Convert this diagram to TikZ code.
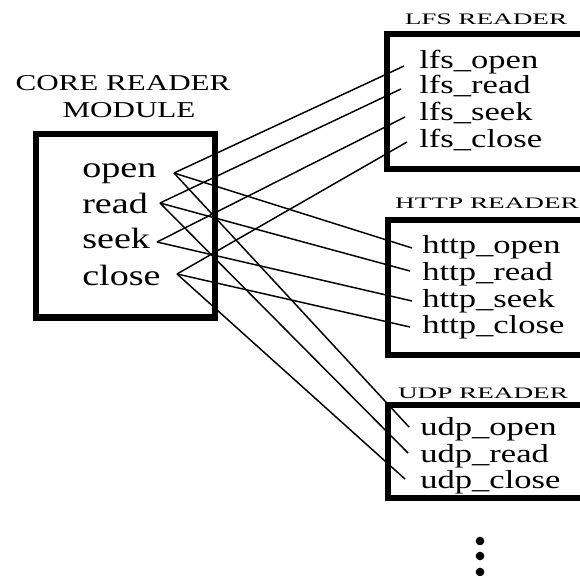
\documentclass[tikz,border=0pt]{standalone}
\usepackage{fontspec}
\setmainfont{Liberation Serif}
\newfontfamily\coreitemfont{Liberation Serif}[FakeStretch=1.3]
\newfontfamily\rightitemfont{Liberation Serif}[FakeStretch=1.33]
\newfontfamily\coretitlefont{Liberation Serif}[FakeStretch=1.37]
\newfontfamily\righttitlefont{Liberation Serif}[FakeStretch=1.7]
\tikzset{
  corebox/.style={draw, line width=4.8pt, outer sep=0pt, inner sep=0pt, anchor=north west},
  readerbox/.style={draw, line width=4.2pt, outer sep=0pt, inner sep=0pt, anchor=north west},
  coreitem/.style={anchor=base west, inner sep=0pt, font=\coreitemfont\fontsize{22}{24}\selectfont},
  rightitem/.style={anchor=base west, inner sep=0pt, font=\rightitemfont\fontsize{19.5}{21}\selectfont},
  coretitle/.style={anchor=base, inner sep=0pt, font=\coretitlefont\fontsize{17}{19}\selectfont},
  righttitle/.style={anchor=base, inner sep=0pt, font=\righttitlefont\fontsize{12}{14}\selectfont},
  link/.style={line width=1.1pt},
  dotmark/.style={fill=black, circle, inner sep=0pt, minimum size=6.5pt}
}
\begin{document}
\begin{tikzpicture}[x=0.75pt,y=-0.75pt]
\useasboundingbox (0,0) rectangle (580,575);
% boxes
\node[corebox, minimum width=134.6pt, minimum height=137.6pt] (core) at (35.7,134) {};
\node[readerbox, minimum width=195pt, minimum height=101.25pt] (lfs) at (387,34) {};
\node[readerbox, minimum width=195pt, minimum height=101.25pt] (http) at (388,220) {};
\node[readerbox, minimum width=195pt, minimum height=69.75pt] (udp) at (388,405) {};
% titles
\node[coretitle] (t1) at (123,90) {CORE READER};
\node[coretitle] (t2) at (129,117) {MODULE};
\node[righttitle] (tl) at (486,24) {LFS READER};
\node[righttitle] (th) at (487,208) {HTTP READER};
\node[righttitle] (tu) at (483,398) {UDP READER};
% core items
\node[coreitem] (open) at (82,177) {open};
\node[coreitem] (read) at (82,213) {read};
\node[coreitem] (seek) at (82,248) {seek};
\node[coreitem] (close) at (82,285) {close};
% lfs items
\node[rightitem] (lfsopen) at (419,68) {lfs\_open};
\node[rightitem] (lfsread) at (419,93) {lfs\_read};
\node[rightitem] (lfsseek) at (419,120) {lfs\_seek};
\node[rightitem] (lfsclose) at (419,147) {lfs\_close};
% http items
\node[rightitem] (httpopen) at (422,253) {http\_open};
\node[rightitem] (httpread) at (422,280) {http\_read};
\node[rightitem] (httpseek) at (422,307) {http\_seek};
\node[rightitem] (httpclose) at (422,333) {http\_close};
% udp items
\node[rightitem] (udpopen) at (420,435) {udp\_open};
\node[rightitem] (udpread) at (420,462) {udp\_read};
\node[rightitem] (udpclose) at (420,488) {udp\_close};
% connector end points
\coordinate (co) at (174,173);
\coordinate (cr) at (160,203);
\coordinate (cs) at (157,242);
\coordinate (cc) at (177,274);
\coordinate (lo) at (404,66);
\coordinate (lr) at (401,89);
\coordinate (ls) at (405,117);
\coordinate (lc) at (407,142);
\coordinate (ho) at (412,248);
\coordinate (hr) at (410,271);
\coordinate (hs) at (412,301);
\coordinate (hc) at (410,327);
\coordinate (uo) at (409,427);
\coordinate (ur) at (408,453);
\coordinate (uc) at (405,479);
% connectors
\draw[link] (co) -- (lo);
\draw[link] (co) -- (ho);
\draw[link] (co) -- (uo);
\draw[link] (cr) -- (lr);
\draw[link] (cr) -- (hr);
\draw[link] (cr) -- (ur);
\draw[link] (cs) -- (ls);
\draw[link] (cs) -- (hs);
\draw[link] (cc) -- (lc);
\draw[link] (cc) -- (hc);
\draw[link] (cc) -- (uc);
% dots
\node[dotmark] (d1) at (480,541) {};
\node[dotmark] (d2) at (480,556) {};
\node[dotmark] (d3) at (480,572) {};
\end{tikzpicture}
\end{document}
